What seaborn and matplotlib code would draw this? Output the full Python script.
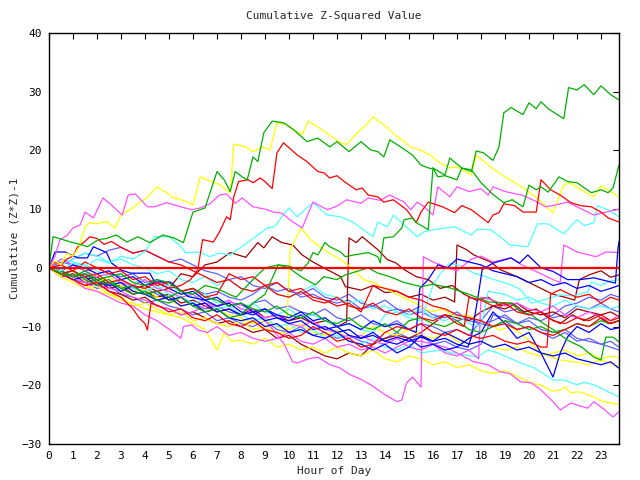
import matplotlib
matplotlib.use("Agg")
import matplotlib.pyplot as plt
import seaborn as sns

# ---------------- data: (hour, cumulative value) per series ----------------
Y1 = [(0,0),(0.25,1.2),(0.5,0.5),(0.75,2.5),(1.0,2.0),(1.25,3.5),(1.5,7.0),(1.7,7.7),(2.0,7.5),(2.4,7.9),(2.75,6.8),(3.0,9.0),(3.4,10.0),(3.8,11.2),(4.1,12.0),(4.5,13.8),(4.9,12.8),(5.2,11.9),(5.6,11.5),(6.0,10.7),(6.3,15.5),(6.7,14.8),(7.1,14.2),(7.55,12.8),(7.7,21.1),(8.2,20.6),(8.5,19.8),(8.9,20.6),(9.2,20.1),(9.5,24.7),(9.9,24.4),(10.2,23.5),(10.55,22.7),(10.8,25.0),(11.2,24.0),(11.7,22.6),(12.15,21.3),(12.4,21.0),(12.85,23.0),(13.2,24.3),(13.5,25.7),(14.0,24.2),(14.4,22.7),(14.7,21.8),(15.07,20.6),(15.5,20.0),(15.9,19.2),(16.2,18.1),(16.7,17.0),(17.0,17.2),(17.6,15.8),(17.8,19.2),(18.3,17.5),(18.8,16.0),(19.3,14.8),(19.8,13.5),(20.3,12.0),(20.7,10.5),(21.0,9.4),(21.45,14.1),(21.7,14.5),(22.2,13.2),(22.7,12.1),(23.0,14.0),(23.4,13.0),(23.75,12.1)]
G1 = [(0,0),(0.17,5.3),(0.5,4.9),(1.0,4.3),(1.3,4.0),(1.6,3.6),(2.05,4.8),(2.4,5.0),(2.8,5.6),(3.25,4.4),(3.7,5.3),(4.2,4.3),(4.75,5.6),(5.2,5.1),(5.6,4.3),(6.0,9.5),(6.5,10.2),(7.0,16.4),(7.3,15.0),(7.55,13.0),(7.76,16.4),(8.05,15.5),(8.26,15.0),(8.5,18.9),(8.7,18.1),(8.95,23.0),(9.3,25.0),(9.78,24.7),(10.2,23.5),(10.75,21.5),(11.2,22.1),(11.7,20.6),(12.0,21.5),(12.5,19.8),(13.0,21.5),(13.4,20.1),(13.7,19.8),(13.95,18.9),(14.2,21.8),(14.65,20.6),(15.15,19.2),(15.5,17.5),(15.9,16.9),(16.0,17.0),(16.5,15.8),(16.7,18.7),(17.2,17.0),(17.6,16.4),(17.8,19.9),(18.1,19.6),(18.5,18.3),(18.75,20.6),(18.95,26.4),(19.25,27.3),(19.75,26.1),(20.0,28.1),(20.3,27.1),(20.5,28.3),(20.8,27.1),(21.45,25.4),(21.65,30.7),(22.0,30.3),(22.3,31.2),(22.7,29.5),(23.0,31.0),(23.4,29.5),(23.75,28.6)]
G2 = [(0,0),(0.5,-1.0),(1,-1.5),(1.5,-0.5),(2,-2.0),(2.5,-1.5),(3,-1.0),(3.5,-2.5),(4,-3.0),(4.5,-2.0),(5,-2.5),(5.5,-4.0),(6,-4.5),(6.5,-3.0),(7,-3.5),(7.5,-4.5),(7.8,-5.0),(8.5,-2.0),(9,0.0),(9.55,0.5),(10,0.3),(10.5,-0.5),(10.8,0.85),(11.0,2.6),(11.2,2.2),(11.5,4.3),(11.7,3.6),(12.15,2.7),(12.35,1.9),(12.7,2.2),(13.3,2.6),(13.7,1.9),(13.8,0.85),(13.95,5.1),(14.35,5.3),(14.7,6.8),(14.8,8.2),(15.15,8.5),(15.3,7.7),(15.6,7.0),(15.8,6.5),(16.0,17.0),(16.2,15.5),(16.5,15.7),(17.0,15.0),(17.2,17.0),(17.6,16.7),(18.0,14.5),(18.5,12.5),(18.95,11.1),(19.3,11.6),(19.75,10.4),(20.0,14.1),(20.3,13.3),(20.5,13.8),(20.8,12.9),(21.25,15.5),(21.6,14.7),(22.0,14.5),(22.6,12.8),(23.0,13.3),(23.3,12.8),(23.5,13.6),(23.75,17.5)]
R1 = [(0,0),(0.5,-1.0),(1,-0.5),(1.5,-1.5),(2,-1.0),(2.5,-2.5),(3,-2.0),(3.5,-3.0),(4,-3.5),(4.5,-2.5),(5,-3.5),(5.5,-3.0),(5.9,-2.0),(6.2,-0.3),(6.4,4.8),(6.85,4.4),(7.1,6.1),(7.4,8.7),(7.55,8.2),(7.7,12.1),(7.9,14.7),(8.3,15.0),(8.5,14.5),(8.8,15.3),(9.0,14.7),(9.3,13.5),(9.5,19.6),(9.77,21.3),(10.35,19.2),(10.75,18.1),(11.2,16.4),(11.45,16.2),(11.7,15.3),(12.0,15.7),(12.3,14.7),(12.8,13.3),(13.05,13.6),(13.3,12.4),(13.7,12.1),(13.95,11.2),(14.35,11.6),(14.9,9.9),(15.3,7.7),(15.5,9.5),(15.8,11.2),(16.4,10.4),(16.9,9.4),(17.2,10.6),(17.6,9.9),(18.3,7.7),(18.5,9.0),(18.75,9.4),(18.95,10.9),(19.4,10.6),(19.75,9.5),(20.3,9.5),(20.5,15.0),(20.9,13.3),(21.3,12.4),(21.75,11.1),(22.15,10.6),(22.6,10.4),(23.0,9.5),(23.3,8.5),(23.75,7.8)]
M1 = [(0,0),(0.25,2.0),(0.46,4.8),(0.75,5.5),(1.0,6.8),(1.3,7.3),(1.5,9.5),(1.85,8.5),(2.25,11.9),(2.6,10.7),(3.05,9.0),(3.3,12.4),(3.6,12.6),(4.1,10.4),(4.4,10.4),(4.9,11.1),(5.4,10.5),(5.95,9.9),(6.3,10.2),(6.7,10.9),(7.1,12.4),(7.4,12.6),(7.76,11.0),(8.05,11.9),(8.5,10.4),(9.0,10.0),(9.35,9.5),(9.7,9.3),(10.1,8.0),(10.55,6.8),(11.0,11.2),(11.6,9.9),(12.0,10.5),(12.4,11.6),(13.0,11.0),(13.3,11.9),(13.8,11.5),(14.2,12.4),(14.8,11.2),(15.07,9.9),(15.35,11.2),(15.6,10.5),(16.0,9.0),(16.2,13.8),(16.7,12.1),(17.0,13.8),(17.5,13.0),(18.0,13.5),(18.3,12.4),(18.5,13.8),(19.0,13.0),(19.7,12.4),(20.2,11.5),(20.7,10.4),(21.2,10.8),(21.6,11.2),(22.2,10.0),(22.7,9.0),(23.2,9.5),(23.75,10.0)]
C1 = [(0,0),(0.5,-0.5),(1,0.8),(1.5,0.2),(2,1.5),(2.5,0.8),(3,2.0),(3.5,1.5),(4.0,2.8),(4.4,5.3),(5.0,5.3),(5.4,4.0),(5.7,2.6),(6.3,2.7),(6.7,1.9),(7.1,2.5),(7.55,2.2),(8.26,4.3),(8.6,5.3),(9.1,6.8),(9.4,7.0),(9.7,8.7),(10.0,10.2),(10.35,8.7),(10.55,9.5),(11.0,11.1),(11.6,9.0),(12.15,8.7),(12.7,7.7),(13.5,5.3),(13.7,7.8),(14.1,7.0),(14.35,9.0),(14.8,7.3),(15.35,5.3),(15.6,6.1),(16.0,6.5),(16.9,7.0),(17.6,5.6),(17.85,6.6),(18.4,6.5),(18.8,5.3),(19.2,3.9),(19.95,3.6),(20.35,7.5),(20.8,7.5),(21.45,5.8),(22.0,8.2),(22.3,7.2),(22.7,7.7),(22.85,10.6),(23.3,9.9),(23.75,8.7)]
DR1 = [(0,0),(0.5,-1.0),(1,-0.5),(1.5,-2.0),(2,-1.5),(2.5,-3.0),(3,-2.0),(3.5,-3.5),(4,-3.0),(4.5,-4.0),(5,-3.5),(5.5,-1.0),(6,-1.5),(6.5,0.5),(7,1.0),(7.55,2.6),(8.2,1.8),(8.7,4.3),(8.95,3.4),(9.3,5.3),(9.7,4.3),(10.15,3.9),(10.55,2.2),(11,1.0),(11.45,0.0),(12.15,-1.5),(12.35,-3.2),(13,-3.8),(13.5,-3.0),(14,-4.2),(14.5,-4.0),(15,-5.0),(15.5,-4.5),(16,-5.5),(16.5,-5.0),(16.9,-5.8),(17.0,3.9),(17.4,3.1),(17.7,2.2),(18.4,1.0),(18.8,-0.3),(19.5,-1.5),(20,-2.5),(20.5,-3.5),(21,-4.5),(21.5,-5.0),(21.9,-5.5),(22.1,-2.0),(22.5,-1.2),(23,-0.5),(23.4,-1.6),(23.75,-1.2)]
DR2 = [(0,0),(0.5,-1.5),(1,-1.0),(1.5,-2.5),(2,-2.0),(2.5,-3.5),(3,-3.0),(3.5,-4.5),(4,-4.0),(4.5,-5.0),(5,-4.5),(5.5,-6.0),(6,-5.5),(6.5,-6.5),(7,-7.5),(7.5,-7.0),(8,-8.0),(8.5,-7.0),(9,-8.5),(9.5,-8.0),(10,-9.0),(10.5,-8.5),(11,-9.5),(11.5,-9.0),(12,-10.0),(12.4,-9.2),(12.5,5.1),(12.8,4.3),(13.05,5.3),(13.7,3.1),(14.1,1.4),(14.45,0.85),(14.8,-0.3),(15.3,-1.5),(15.8,-2.0),(16.3,-3.5),(16.8,-3.0),(17.3,-4.5),(17.8,-5.5),(18.3,-5.0),(18.8,-6.5),(19.3,-6.0),(19.8,-7.5),(20.3,-7.0),(20.8,-8.5),(21.3,-9.5),(21.8,-8.0),(22.3,-9.0),(22.8,-8.0),(23.3,-9.5),(23.75,-9.0)]
DR3 = [(0,0),(0.5,-1.0),(1,-2.0),(1.5,-3.0),(2,-2.5),(2.5,-4.0),(3,-4.5),(3.5,-5.5),(4,-5.0),(4.5,-6.5),(5,-7.0),(5.5,-8.0),(6,-7.5),(6.5,-8.5),(7,-9.5),(7.5,-9.0),(8,-10.0),(8.5,-11.0),(9,-10.5),(9.5,-12.0),(10,-11.5),(10.5,-13.0),(11,-14.0),(11.5,-15.0),(12,-15.5),(12.5,-14.5),(13,-15.0),(13.5,-13.0),(14,-12.0),(14.5,-11.5),(15,-12.0),(15.5,-11.0),(16,-9.5),(16.5,-8.0),(17,-8.5),(17.5,-9.0),(18,-7.5),(18.5,-6.5),(19,-7.0),(19.5,-6.0),(20,-7.5),(20.5,-8.0),(21,-7.5),(21.5,-8.5),(22,-7.0),(22.5,-7.5),(23,-8.0),(23.4,-7.5),(23.75,-8.3)]
B1 = [(0,0),(0.5,-0.5),(1,-1.5),(1.5,-1.0),(2,-2.5),(2.5,-3.0),(3,-2.5),(3.5,-4.0),(4,-4.5),(4.5,-4.0),(5,-5.5),(5.5,-5.0),(6,-6.5),(6.5,-6.0),(7,-7.5),(7.5,-7.0),(8,-8.0),(8.5,-7.5),(9,-9.0),(9.5,-8.5),(10,-9.5),(10.5,-9.0),(11,-10.5),(11.5,-10.0),(12,-11.0),(12.5,-10.5),(13,-12.0),(13.5,-11.5),(14,-12.5),(14.5,-11.8),(15,-12.5),(15.5,-11.8),(16,-12.5),(16.5,-12.0),(17,-13.0),(17.45,-13.5),(17.6,-11.8),(17.9,-4.3),(18.05,-0.3),(18.5,0.8),(19.25,1.7),(19.6,0.8),(19.95,2.2),(20.5,0.0),(21.0,-0.6),(21.6,-2.0),(22.15,-2.0),(22.7,-1.7),(23.4,-2.4),(23.6,-2.6),(23.7,3.0),(23.75,4.5)]
B2 = [(0,0),(0.25,2.7),(0.67,2.7),(1.2,1.7),(1.6,1.7),(1.85,3.6),(2.4,2.6),(2.6,0.85),(2.96,-0.3),(3.4,-0.9),(4.2,-0.9),(4.4,-2.4),(5.05,-2.4),(5.8,-4.9),(6.5,-5.5),(7,-6.5),(7.5,-6.0),(8,-7.5),(8.5,-8.0),(9,-7.0),(9.5,-8.5),(10,-9.0),(10.5,-8.0),(11,-9.5),(11.5,-10.5),(12,-10.0),(12.5,-11.5),(13,-12.0),(13.5,-11.0),(14,-12.5),(14.5,-13.0),(15,-12.0),(15.5,-13.5),(16,-13.0),(16.5,-14.0),(17,-13.5),(17.5,-12.0),(18,-11.0),(18.5,-7.5),(19,-9.5),(19.5,-12.0),(20,-11.0),(20.5,-14.5),(21.0,-18.6),(21.3,-14.5),(21.6,-11.8),(22.0,-10.0),(22.5,-11.0),(23.0,-9.5),(23.4,-10.5),(23.75,-10.2)]
B3 = [(0,0),(0.5,-1.0),(1,-2.0),(1.5,-1.5),(2,-3.0),(2.5,-2.5),(3,-4.0),(3.5,-3.0),(4,-4.5),(4.5,-5.5),(5,-5.0),(5.5,-6.5),(6,-6.0),(6.5,-7.5),(7,-7.0),(7.5,-8.5),(8,-9.0),(8.5,-8.5),(9,-10.0),(9.5,-9.5),(10,-11.0),(10.5,-10.5),(11,-11.5),(11.5,-12.0),(12,-11.0),(12.5,-12.5),(13,-13.0),(13.5,-14.0),(14,-13.0),(14.5,-14.5),(15,-13.5),(15.5,-11.5),(16,-12.5),(16.5,-11.0),(17,-12.0),(17.5,-13.0),(18,-12.5),(18.5,-13.5),(19,-13.0),(19.5,-14.0),(20,-13.5),(20.5,-14.5),(21,-15.0),(21.5,-14.5),(22,-15.5),(22.5,-16.0),(23,-16.5),(23.4,-16.0),(23.75,-17.1)]
B4 = [(0,0),(0.5,-0.5),(1,0.5),(1.5,0.0),(2,-1.0),(2.5,-0.5),(3,-2.0),(3.5,-1.5),(4,-3.0),(4.5,-2.5),(5,-3.5),(5.5,-4.5),(6,-4.0),(6.5,-5.5),(7,-5.0),(7.5,-6.5),(8,-6.0),(8.5,-7.5),(9,-7.0),(9.5,-8.0),(10,-8.5),(10.5,-7.5),(11,-9.0),(11.5,-8.5),(12,-10.0),(12.5,-9.5),(13,-10.5),(13.5,-9.0),(14,-10.0),(14.5,-9.5),(15,-10.5),(15.3,-11.0),(15.45,-3.5),(15.8,-2.0),(16.2,0.5),(16.6,0.0),(17.0,1.5),(17.5,1.0),(18.0,0.5),(18.5,-0.5),(19.0,-1.0),(19.5,-1.5),(20.0,-2.5),(20.5,-2.0),(21.0,-3.0),(21.5,-2.5),(22.0,-3.5),(22.5,-3.0),(23.0,-4.0),(23.4,-3.5),(23.75,-3.0)]
M2 = [(0,0),(0.5,-1.0),(1,-1.5),(1.5,-2.5),(2,-3.0),(2.5,-3.5),(3,-4.0),(3.5,-5.0),(4,-5.5),(4.5,-6.5),(5,-7.0),(5.5,-8.0),(6,-7.5),(6.5,-6.5),(7,-6.5),(7.55,-5.8),(8.4,-6.8),(8.9,-8.5),(9.35,-10.6),(9.8,-13.0),(10.15,-16.0),(10.35,-16.2),(10.8,-15.5),(11.2,-15.2),(11.7,-16.5),(12.1,-17.0),(12.55,-18.2),(13.0,-19.0),(13.4,-19.9),(14.0,-21.6),(14.5,-22.8),(14.7,-22.5),(14.9,-19.6),(15.15,-18.6),(15.5,-20.3),(15.6,1.9),(16.0,1.0),(16.5,0.2),(17.0,-0.5),(17.6,1.5),(18.0,2.0),(18.5,1.0),(19.25,1.7),(19.7,0.5),(20.5,-1.0),(21.0,-2.0),(21.3,-2.5),(21.45,3.9),(21.6,3.6),(22.0,2.7),(22.8,1.9),(23.2,2.7),(23.75,2.6)]
M4 = [(0,0),(0.5,-1.0),(1,-2.0),(1.5,-3.5),(2,-4.0),(2.5,-5.0),(3,-6.0),(3.5,-6.5),(4,-8.0),(4.5,-9.0),(5.05,-10.6),(5.5,-12.0),(5.6,-10.0),(5.95,-9.7),(6.2,-10.6),(6.6,-11.0),(7,-10.0),(7.5,-11.5),(8,-11.0),(8.5,-12.0),(9,-12.5),(9.5,-12.0),(10,-11.0),(10.5,-12.5),(11,-13.0),(11.5,-12.0),(12,-13.5),(12.5,-13.0),(13,-14.0),(13.5,-13.5),(14,-14.5),(14.5,-13.5),(15,-12.5),(15.5,-12.5),(16,-13.0),(16.5,-13.5),(17,-14.5),(17.7,-16.0),(18.3,-16.5),(18.8,-17.7),(19.2,-18.0),(19.65,-19.4),(20.1,-19.6),(20.5,-20.8),(21.0,-22.8),(21.3,-24.2),(21.75,-23.0),(22.1,-23.5),(22.45,-23.9),(22.7,-22.8),(23.1,-24.0),(23.5,-25.4),(23.75,-24.5)]
M5 = [(0,0),(0.5,1.5),(1,0.5),(1.5,-0.5),(2,-1.5),(2.5,-1.0),(3,-2.5),(3.5,-3.0),(4,-2.0),(4.5,-3.5),(5,-4.0),(5.5,-5.0),(6,-4.5),(6.5,-6.0),(7,-6.5),(7.5,-5.5),(8,-7.0),(8.5,-7.5),(9,-8.5),(9.5,-8.0),(10,-9.5),(10.5,-10.0),(11,-9.0),(11.5,-10.5),(12,-11.0),(12.5,-12.0),(13,-11.5),(13.5,-12.5),(14,-13.0),(14.5,-12.0),(15,-13.5),(15.5,-14.0),(16,-13.0),(16.5,-14.5),(17,-15.0),(17.5,-14.0),(17.9,-15.5),(18.0,-5.0),(18.5,-5.5),(19,-6.5),(19.5,-6.0),(20,-7.0),(20.5,-7.5),(21,-6.5),(21.5,-8.0),(22,-8.5),(22.5,-7.5),(23,-8.5),(23.4,-9.0),(23.75,-8.0)]
C2 = [(0,0),(0.5,-0.5),(1,-1.5),(1.5,-1.0),(2,-2.5),(2.5,-3.0),(3,-2.0),(3.5,-3.5),(4,-4.0),(4.5,-3.0),(5,-4.5),(5.5,-5.0),(6,-6.0),(6.5,-5.5),(7,-7.0),(7.5,-6.5),(8,-8.0),(8.5,-9.0),(9,-8.5),(9.5,-10.0),(10,-9.5),(10.5,-11.0),(11,-10.5),(11.5,-12.0),(12,-11.5),(12.5,-12.5),(13,-13.0),(13.5,-12.0),(14,-13.5),(14.5,-14.0),(15,-13.0),(15.5,-14.5),(16.3,-14.0),(16.8,-14.5),(17.3,-14.8),(17.85,-15.2),(18.3,-14.0),(18.7,-14.5),(19.1,-15.2),(19.65,-16.2),(20.2,-17.0),(20.6,-18.0),(21.0,-19.1),(21.45,-19.1),(22.0,-19.9),(22.3,-19.5),(22.7,-19.9),(23.0,-20.5),(23.3,-21.1),(23.75,-22.0)]
C3 = [(0,0),(0.5,1.5),(1,1.0),(1.5,0.5),(2,-0.5),(2.5,-1.5),(3,-1.0),(3.5,-2.5),(4,-2.0),(4.5,-3.5),(5,-3.0),(5.5,-4.0),(6,-5.0),(6.5,-4.5),(7,-6.0),(7.5,-5.5),(8,-7.0),(8.5,-6.0),(9,-7.5),(9.5,-8.0),(10,-7.0),(10.5,-8.5),(11,-8.0),(11.5,-9.0),(12,-10.0),(12.5,-9.5),(13,-10.5),(13.5,-11.0),(14,-8.0),(14.5,-7.5),(15,-8.5),(15.5,-9.0),(16,-3.0),(16.3,-1.0),(16.7,0.8),(17.2,0.3),(17.7,-0.9),(18.2,-1.5),(18.7,-2.2),(19.2,-2.8),(19.65,-3.7),(20.1,-6.0),(20.6,-5.5),(21.3,-4.6),(21.8,-4.8),(22.45,-4.1),(22.6,-2.4),(23.0,-3.0),(23.4,-2.2),(23.75,-2.0)]
C4 = [(0,0),(0.5,0.5),(1,1.5),(1.5,2.5),(2,2.0),(2.5,1.0),(3,1.5),(3.5,0.5),(4,0.0),(4.5,-1.0),(5,-0.5),(5.5,-2.0),(6,-2.5),(6.5,-1.5),(7,-3.0),(7.5,-2.0),(8,-3.5),(8.5,-4.0),(9,-3.0),(9.5,-4.5),(10,-5.0),(10.5,-4.0),(11,-3.0),(11.5,-4.5),(12,-5.0),(12.5,-6.0),(13,-5.5),(13.5,-7.0),(14,-6.5),(14.5,-7.5),(15,-8.0),(15.5,-7.0),(16,-8.5),(16.5,-9.0),(17,-8.0),(17.5,-9.5),(18,-10.0),(18.3,-4.0),(19,-4.5),(19.5,-5.5),(20,-5.0),(20.5,-6.0),(21,-6.5),(21.5,-5.5),(22,-6.5),(22.5,-7.0),(23,-6.5),(23.4,-7.0),(23.75,-6.5)]
Y2 = [(0,0),(0.5,-1.0),(1,-2.0),(1.5,-3.0),(2,-4.0),(2.5,-4.5),(3,-5.5),(3.5,-6.0),(4,-7.0),(4.5,-7.5),(5,-8.0),(5.5,-8.5),(6,-9.5),(6.5,-10.5),(7.0,-14.0),(7.3,-11.0),(7.6,-12.5),(8,-12.3),(8.5,-13.0),(9,-12.0),(9.5,-13.5),(10,-13.0),(10.5,-14.0),(11,-13.5),(11.5,-14.5),(12,-13.5),(12.5,-14.5),(13,-15.0),(13.5,-14.0),(14,-15.5),(14.5,-16.0),(15,-15.0),(15.5,-15.5),(16,-16.5),(16.5,-16.0),(17,-17.0),(17.5,-16.5),(18,-17.5),(18.5,-18.0),(19,-17.5),(19.5,-18.5),(20.1,-19.6),(20.5,-20.0),(21.0,-21.0),(21.3,-20.8),(21.5,-20.3),(21.75,-21.3),(22.1,-21.1),(22.45,-21.6),(22.7,-22.0),(23.1,-22.8),(23.4,-23.0),(23.75,-23.3)]
Y5 = [(0,0),(0.5,-1.5),(1,-2.5),(1.5,-3.5),(2,-3.0),(2.5,-4.5),(3,-5.0),(3.5,-6.5),(4,-6.0),(4.5,-7.0),(5,-8.0),(5.5,-7.5),(6,-9.0),(6.5,-8.5),(7,-9.5),(7.5,-10.0),(8,-9.0),(8.5,-10.5),(9,-10.0),(9.5,-11.0),(9.9,-11.0),(10.05,3.1),(10.5,6.8),(10.9,4.8),(11.45,3.1),(12.15,1.4),(12.6,0.0),(13.1,-2.0),(13.5,-2.5),(14,-3.5),(14.5,-4.5),(15,-5.5),(15.5,-6.5),(15.9,-7.5),(16.4,-7.0),(16.9,-8.3),(17.4,-8.0),(17.85,-8.9),(18.3,-9.5),(18.8,-10.6),(19.2,-10.0),(19.65,-11.1),(20.0,-12.5),(20.35,-14.0),(20.8,-15.0),(21.3,-15.7),(21.9,-16.0),(22.45,-16.5),(23.0,-15.7),(23.4,-16.3),(23.75,-16.8)]
Y6 = [(0,0),(0.5,-1.0),(1,-0.5),(1.5,-2.0),(2,-2.5),(2.5,-1.5),(3,-3.0),(3.5,-4.0),(4,-3.5),(4.5,-5.0),(5,-5.5),(5.5,-6.5),(6,-6.0),(6.5,-7.5),(7,-7.0),(7.5,-8.0),(8,-8.5),(8.5,-9.5),(9,-9.0),(9.5,-10.0),(10,-10.5),(10.5,-9.5),(11,-11.0),(11.5,-11.5),(12,-10.5),(12.5,-12.0),(13,-11.5),(13.5,-10.0),(14,-11.0),(14.5,-11.5),(15,-10.5),(15.5,-11.5),(16,-12.0),(16.5,-11.0),(17,-12.5),(17.5,-13.0),(18,-12.5),(18.5,-13.5),(19,-14.0),(19.5,-13.5),(20,-14.5),(20.5,-15.0),(21,-14.5),(21.5,-14.0),(22,-15.0),(22.5,-14.5),(23,-15.5),(23.4,-15.0),(23.75,-15.3)]
G3 = [(0,0),(0.5,-1.0),(1,-0.5),(1.5,-2.0),(2,-3.0),(2.5,-2.5),(3,-3.5),(3.5,-4.5),(4,-4.0),(4.5,-5.5),(5,-6.0),(5.5,-5.0),(6,-6.5),(6.5,-7.5),(7,-7.0),(7.5,-8.5),(8,-8.0),(8.5,-6.0),(9,-4.5),(9.55,0.5),(10,0.0),(10.5,-1.5),(11.1,-2.9),(11.45,-1.5),(12,-2.0),(12.35,-1.2),(13.3,0.0),(13.7,-0.9),(14.2,-1.5),(14.8,-2.5),(15.5,-3.2),(16,-2.8),(16.7,-3.4),(17.5,-4.5),(18.3,-5.8),(19.25,-6.0),(19.65,-7.5),(20.1,-8.0),(20.5,-9.2),(21,-10.5),(21.6,-12.3),(22.2,-13.5),(22.7,-15.2),(23.0,-15.7),(23.2,-11.8),(23.5,-11.8),(23.75,-12.6)]
G4 = [(0,0),(0.5,-0.5),(1,-1.5),(1.5,-1.0),(2,-2.5),(2.5,-2.0),(3,-3.5),(3.5,-3.0),(4,-4.5),(4.5,-4.0),(5,-5.0),(5.5,-4.0),(6,-3.5),(6.5,-5.0),(7,-5.5),(7.5,-6.5),(8,-6.0),(8.5,-7.0),(9,-7.5),(9.5,-6.5),(10,-8.0),(10.5,-8.5),(11,-7.5),(11.5,-9.0),(12,-9.5),(12.5,-8.5),(13,-10.0),(13.5,-10.5),(14,-9.5),(14.5,-11.0),(15,-9.0),(15.5,-8.5),(16,-9.5),(16.5,-10.0),(17,-9.0),(17.5,-10.5),(18,-11.0),(18.5,-10.0),(19,-9.0),(19.5,-9.5),(20,-10.5),(20.5,-10.0),(21,-11.0),(21.5,-10.5),(22,-9.5),(22.5,-10.0),(23,-9.0),(23.4,-9.5),(23.75,-9.0)]
R2 = [(0,0),(0.25,1.0),(0.5,0.5),(0.75,1.5),(1.0,2.0),(1.2,3.6),(1.5,4.5),(1.7,5.3),(2.0,5.0),(2.3,4.0),(2.6,4.5),(3.0,3.5),(3.5,2.5),(4.0,3.0),(4.5,2.0),(5.0,1.0),(5.5,0.5),(6.0,-0.5),(6.5,-1.5),(7.0,-2.5),(7.5,-2.0),(8.0,-3.5),(8.5,-4.0),(9.0,-3.0),(9.5,-4.5),(10.0,-5.0),(10.5,-4.0),(11.0,-5.5),(11.5,-6.0),(12.0,-5.0),(12.5,-6.5),(13.0,-7.0),(13.5,-6.0),(14.0,-7.5),(14.5,-8.0),(15.0,-7.0),(15.5,-8.5),(16.0,-9.0),(16.5,-8.0),(17.0,-9.5),(17.3,-10.0),(17.5,-5.0),(18.0,-5.5),(18.5,-6.5),(19.0,-6.0),(19.5,-7.5),(20.0,-8.0),(20.5,-7.5),(21.0,-9.0),(21.5,-9.5),(22.0,-8.5),(22.5,-9.0),(23.0,-8.0),(23.4,-9.0),(23.75,-8.5)]
R3 = [(0,0),(0.5,-1.0),(1,-2.0),(1.5,-3.0),(2,-2.5),(2.5,-4.0),(3,-5.0),(3.5,-7.0),(3.75,-8.5),(4.0,-9.5),(4.1,-10.6),(4.25,-6.0),(4.6,-6.5),(5,-7.5),(5.5,-7.0),(6,-8.5),(6.5,-9.0),(7,-8.0),(7.5,-9.5),(8,-10.0),(8.5,-9.0),(9,-10.5),(9.5,-11.0),(10,-12.0),(10.5,-11.5),(11,-10.0),(11.5,-11.0),(12,-12.5),(12.5,-12.0),(13,-13.5),(13.5,-13.0),(14,-11.0),(14.5,-10.0),(15,-10.5),(15.5,-9.5),(16,-11.0),(16.5,-11.5),(17,-10.5),(17.5,-11.5),(18,-12.0),(18.5,-11.5),(19,-12.5),(19.5,-13.0),(20,-12.5),(20.5,-13.5),(20.75,-13.5),(20.9,-4.5),(21.3,-3.7),(21.7,-4.5),(22.0,-5.0),(22.5,-4.5),(23.0,-6.0),(23.4,-5.0),(23.75,-5.5)]
R4 = [(0,0),(0.5,0.5),(1,-0.5),(1.5,1.0),(2,0.0),(2.5,-1.0),(3,-0.5),(3.5,-2.0),(4,-1.5),(4.5,-3.0),(5,-2.5),(5.5,-4.0),(6,-3.5),(6.5,-5.0),(7,-4.5),(7.5,-1.0),(8,-2.0),(8.5,-1.5),(9,-3.0),(9.5,-2.5),(10,-4.0),(10.5,-3.5),(11,-5.0),(11.5,-5.5),(12,-6.5),(12.5,-6.0),(13,-7.5),(13.5,-3.0),(14,-3.5),(14.5,-4.0),(15,-5.0),(15.5,-5.5),(16,-6.5),(16.5,-7.0),(17,-8.0),(17.5,-8.5),(18,-9.0),(18.5,-10.0),(19,-9.5),(19.5,-10.5),(20,-10.0),(20.5,-11.0),(21,-11.5),(21.5,-10.5),(22,-9.5),(22.5,-10.0),(23,-8.5),(23.4,-9.5),(23.75,-9.0)]
S1 = [(0,0),(0.5,-0.5),(1,-1.5),(1.5,-1.0),(2,-2.0),(2.5,-3.0),(3,-2.5),(3.5,-4.0),(4,-3.5),(4.5,-4.5),(5,-5.5),(5.5,-5.0),(6,-6.0),(6.5,-7.0),(7,-6.5),(7.5,-7.5),(8,-8.0),(8.5,-6.0),(9,-5.5),(9.5,-7.0),(10,-6.5),(10.5,-7.5),(11,-8.0),(11.5,-7.0),(12,-8.5),(12.5,-9.0),(13,-8.0),(13.5,-9.5),(14,-10.0),(14.5,-9.0),(15,-10.5),(15.5,-9.5),(16,-10.0),(16.5,-11.0),(17,-10.5),(17.5,-11.5),(18,-9.0),(18.5,-6.5),(19,-7.5),(19.5,-7.0),(20,-8.0),(20.5,-7.5),(21,-8.5),(21.5,-8.0),(22,-6.5),(22.5,-7.0),(23,-6.0),(23.4,-7.0),(23.75,-7.5)]
S2 = [(0,0),(0.5,-1.0),(1,-2.0),(1.5,-2.5),(2,-3.5),(2.5,-3.0),(3,-4.5),(3.5,-5.0),(4,-6.0),(4.5,-5.5),(5,-6.5),(5.5,-7.0),(6,-8.0),(6.5,-7.5),(7,-9.0),(7.5,-8.5),(8,-9.5),(8.5,-10.0),(9,-9.0),(9.5,-10.5),(10,-11.0),(10.5,-10.0),(11,-11.5),(11.5,-11.0),(12,-12.0),(12.5,-11.5),(13,-12.5),(13.5,-13.0),(14,-12.0),(14.5,-11.0),(15,-12.0),(15.5,-11.5),(16,-13.0),(16.5,-12.5),(17,-13.5),(17.5,-14.0),(18,-13.0),(18.5,-8.0),(19,-8.5),(19.5,-9.5),(20,-9.0),(20.5,-10.5),(21,-11.0),(21.5,-10.5),(22,-12.0),(22.5,-12.5),(23,-13.0),(23.4,-13.5),(23.75,-14.0)]
S3 = [(0,0),(0.5,1.0),(1,0.5),(1.5,-0.5),(2,0.0),(2.5,-1.0),(3,-1.5),(3.5,-1.0),(4,-2.5),(4.5,-2.0),(5,-3.0),(5.5,-4.0),(6,-3.5),(6.5,-4.5),(7,-4.0),(7.5,-5.0),(8,-5.5),(8.5,-4.5),(9,-3.0),(9.5,-4.0),(10,-3.5),(10.5,-5.0),(11,-4.5),(11.5,-5.5),(12,-6.0),(12.5,-5.5),(13,-7.0),(13.5,-6.5),(14,-7.5),(14.5,-7.0),(15,-8.0),(15.5,-7.5),(16,-8.5),(16.5,-8.0),(17,-9.0),(17.5,-8.5),(18,-9.5),(18.5,-9.0),(19,-8.0),(19.5,-9.5),(20,-8.5),(20.5,-9.0),(21,-8.0),(21.5,-6.5),(22,-6.0),(22.5,-5.0),(23,-5.5),(23.4,-4.5),(23.75,-5.0)]
S4 = [(0,0),(0.5,0.5),(1,1.5),(1.5,2.5),(2,2.0),(2.5,3.0),(3,3.5),(3.5,2.5),(4,3.0),(4.5,2.0),(5,1.0),(5.5,1.5),(6,0.5),(6.5,-0.5),(7,-1.0),(7.5,-2.0),(8,-1.5),(8.5,-3.0),(9,-3.5),(9.5,-2.5),(10,-4.0),(10.5,-4.5),(11,-3.5),(11.5,-5.0),(12,-5.5),(12.5,-4.5),(13,-6.0),(13.5,-6.5),(14,-5.5),(14.5,-7.0),(15,-7.5),(15.5,-6.5),(16,-8.0),(16.5,-8.5),(17,-7.5),(17.5,-9.0),(18,-9.5),(18.5,-10.0),(19,-9.0),(19.5,-10.5),(20,-10.0),(20.5,-11.0),(21,-12.0),(21.5,-11.0),(22,-12.5),(22.5,-12.0),(23,-13.0),(23.4,-12.5),(23.75,-13.5)]
ZERO = [(0,0),(23.75,0)]

RED, GREEN, BLUE = "#ff0000", "#00b000", "#0000ff"
MAGENTA, CYAN, YELLOW = "#ff50ff", "#50ffff", "#ffff00"
DARKRED, SLATE = "#a00000", "#6060ff"

series = [
    (S4, SLATE), (S3, SLATE), (S2, SLATE), (S1, SLATE),
    (DR3, DARKRED), (DR2, DARKRED), (DR1, DARKRED),
    (Y6, YELLOW), (Y5, YELLOW), (Y2, YELLOW),
    (C4, CYAN), (C3, CYAN), (C2, CYAN),
    (M5, MAGENTA), (M4, MAGENTA), (M2, MAGENTA),
    (B4, BLUE), (B3, BLUE), (B2, BLUE), (B1, BLUE),
    (G4, GREEN), (G3, GREEN),
    (R4, RED), (R3, RED), (R2, RED),
    (Y1, YELLOW), (C1, CYAN), (M1, MAGENTA), (R1, RED), (G2, GREEN), (G1, GREEN),
]

sns.set_style("white")
plt.rcParams["font.family"] = ["DejaVu Sans Mono", "DejaVu Sans"]

fig = plt.figure(figsize=(6.4, 4.8), dpi=100)
ax = fig.add_axes([49/640, 36/480, 570/640, 411/480])

for data, col in series:
    hx = [p[0] for p in data]
    vy = [p[1] for p in data]
    sns.lineplot(x=hx, y=vy, ax=ax, color=col, linewidth=0.9, sort=False,
                 estimator=None, legend=False)
sns.lineplot(x=[p[0] for p in ZERO], y=[p[1] for p in ZERO], ax=ax, color=RED,
             linewidth=1.6, sort=False, estimator=None, legend=False)

ax.set_xlim(0, 23.75)
ax.set_ylim(-30, 40)
ax.set_xticks(range(0, 24))
ax.set_yticks(range(-30, 41, 10))
ax.tick_params(direction="in", length=4.5, width=0.8, top=True, right=True,
               labelsize=8, colors="black", pad=5)
for s in ax.spines.values():
    s.set_color("black")
    s.set_linewidth(1.0)
ax.set_title("Cumulative Z-Squared Value", fontsize=8, pad=10)
ax.set_xlabel("Hour of Day", fontsize=8, labelpad=4)
ax.set_ylabel("Cumulative (Z*Z)-1", fontsize=8, labelpad=2)

fig.savefig("out.png", dpi=100)
